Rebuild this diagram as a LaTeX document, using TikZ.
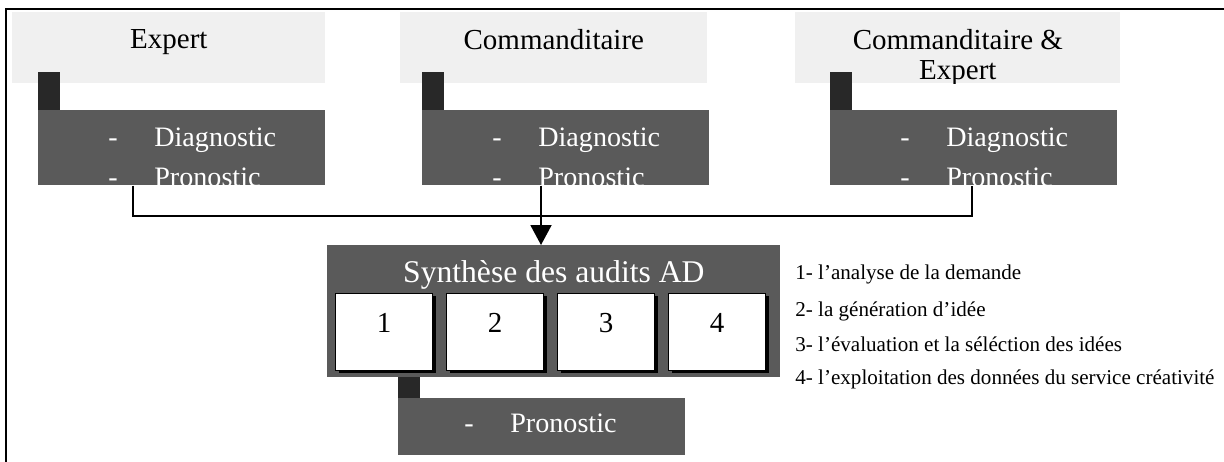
\documentclass[tikz,border=0pt]{standalone}
\usepackage{fontspec}
\setmainfont{Liberation Serif}
\usetikzlibrary{arrows.meta,shadows}
\definecolor{shade}{RGB}{90,90,90}
\definecolor{tabdark}{RGB}{40,40,40}
\definecolor{paper}{RGB}{240,240,240}
\newcommand\headfont{\fontsize{16.5}{18}\selectfont}
\newcommand\boxfont{\fontsize{16}{18}\selectfont}
\newcommand\synthfont{\fontsize{18}{20}\selectfont}
\newcommand\cellfont{\fontsize{16.5}{18}\selectfont}
\newcommand\legfont{\fontsize{12}{13}\selectfont}
\tikzset{
  frame/.style={line width=1.5pt},
  header/.style={fill=paper, inner sep=0pt, anchor=north west, minimum height=14.2mm},
  headtext/.style={font=\headfont, inner sep=0pt, anchor=base},
  darkbox/.style={fill=shade, inner sep=0pt, anchor=north west, minimum width=57.4mm},
  tab/.style={fill=tabdark},
  boxtext/.style={font=\boxfont, text=white, inner sep=0pt, anchor=base west},
  cell/.style={fill=white, draw=black, line width=0.8pt, inner sep=0pt, anchor=north west,
    minimum width=19.4mm, minimum height=15.4mm, font=\cellfont,
    text height=11.2pt, text depth=10.8pt,
    drop shadow={shadow xshift=0.7mm, shadow yshift=-0.5mm, fill=black, opacity=1}},
  link/.style={line width=1.1pt},
  arrow/.style={link, -{Triangle[length=4mm, width=4.2mm]}},
  legend/.style={font=\legfont, inner sep=0pt, anchor=base west}
}
% white text of a dark box, cut at its border
\newcommand\diagpro[1]{%
  \begin{scope}
    \clip (#1.south west) rectangle (#1.north east);
    \node[boxtext] (#1dasha) at ([shift={(70,37)}]#1.north west) {-};
    \node[boxtext] (#1diag) at ([shift={(116,37)}]#1.north west) {Diagnostic};
    \node[boxtext] (#1dashb) at ([shift={(70,77)}]#1.north west) {-};
    \node[boxtext] (#1pron) at ([shift={(116,77)}]#1.north west) {Pronostic};
  \end{scope}}

\begin{document}
\begin{tikzpicture}[x=0.02cm, y=-0.02cm]
  \useasboundingbox (0,0) rectangle (1224,462);
  \draw[frame] (6,462) -- (6,9) -- (1224,9);

  % actors
  \node[header, minimum width=62.6mm] (hexpert) at (12,12) {};
  \node[header, minimum width=61.4mm] (hcomm) at (400,12) {};
  \node[header, minimum width=65mm] (hboth) at (795,12) {};
  \node[headtext] (texpert) at ([shift={(0,37)}]hexpert.north) {Expert};
  \node[headtext] (tcomm) at ([shift={(0,38)}]hcomm.north) {Commanditaire};
  \node[headtext] (tbotha) at ([shift={(0,38)}]hboth.north) {Commanditaire \&};
  \begin{scope}
    \clip (hboth.south west) rectangle (hboth.north east);
    \node[headtext] (tbothb) at ([shift={(0,68)}]hboth.north) {Expert};
  \end{scope}

  % audits
  \node[darkbox, minimum height=15mm] (dexpert) at (38,110) {};
  \node[darkbox, minimum height=15mm] (dcomm) at (422,110) {};
  \node[darkbox, minimum height=15mm] (dboth) at (830,110) {};
  \foreach \b in {dexpert,dcomm,dboth} {
    \fill[tab] (\b.north west) rectangle ++(22,-38);
    \diagpro{\b}
  }

  % synthesis
  \node[darkbox, minimum width=90.6mm, minimum height=26.4mm] (synth) at (327,245) {};
  \node[boxtext, font=\synthfont, anchor=base] (synthtitle) at ([shift={(0,38)}]synth.north) {Synthèse des audits AD};
  \foreach \i in {1,...,4}
    \node[cell] (c\i) at ({335+111*(\i-1)},293) {\i};

  \node[darkbox, minimum height=11.4mm] (prono) at (398,398) {};
  \fill[tab] (prono.north west) rectangle ++(22,-21);
  \node[boxtext] (pronodash) at ([shift={(66,35)}]prono.north west) {-};
  \node[boxtext] (pronotext) at ([shift={(112,35)}]prono.north west) {Pronostic};

  % connectors
  \coordinate (fromexpert) at ([shift={(95,0)}]dexpert.south west);
  \coordinate (fromcomm) at ([shift={(119,0)}]dcomm.south west);
  \coordinate (fromboth) at ([shift={(142,0)}]dboth.south west);
  \coordinate (join) at (fromcomm |- 0,216);
  \draw[link] (fromexpert) |- (join) -| (fromboth);
  \draw[arrow] (fromcomm) -- (fromcomm |- synth.north);

  % legend
  \node[legend] (leg1) at (795,280) {1- l’analyse de la demande};
  \node[legend] (leg2) at (795,317) {2- la génération d’idée};
  \node[legend] (leg3) at (795,352) {3- l’évaluation et la séléction des idées};
  \node[legend] (leg4) at (795,385) {4- l’exploitation des données du service créativité};
\end{tikzpicture}
\end{document}
